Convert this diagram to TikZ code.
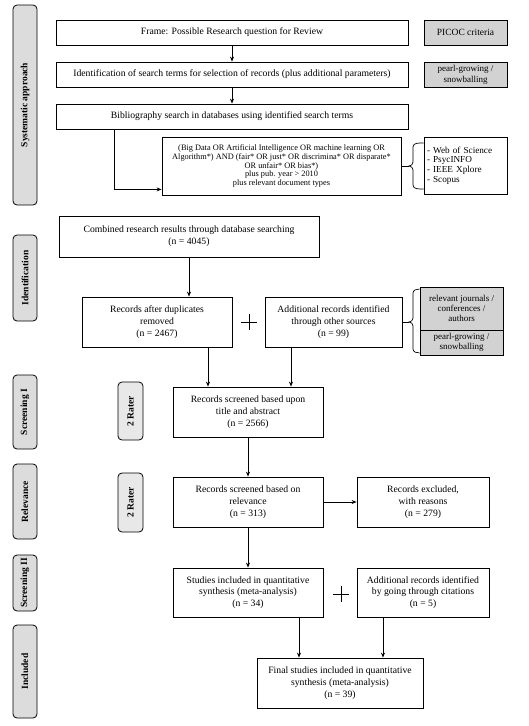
\documentclass[tikz,border=0pt]{standalone}
\usepackage{fontspec}
\setmainfont{Liberation Serif}
\usetikzlibrary{arrows.meta}
\definecolor{sidegray}{HTML}{DCDCDC}
\definecolor{boxgray}{HTML}{D2D2D2}
\definecolor{ratergray}{HTML}{E8E8E8}
\begin{document}
\begin{tikzpicture}[x=1pt,y=-1pt,
  box/.style={draw, line width=0.8pt, fill=white, align=center, inner sep=2pt,
    font=\fontsize{9.7}{11.7}\selectfont},
  graybox/.style={box, fill=boxgray, font=\fontsize{9}{10}\selectfont},
  side/.style={draw, line width=0.8pt, fill=sidegray, rounded corners=4pt, rotate=90,
    minimum height=24pt, inner sep=1pt, font=\fontsize{9.5}{11}\selectfont\bfseries},
  rater/.style={side, fill=ratergray, minimum height=25pt},
  arr/.style={line width=0.8pt, -{Stealth[length=5pt,width=4pt]}},
  ln/.style={line width=0.8pt}]
\useasboundingbox (0,0) rectangle (529,726);

% side bars
\node[side, minimum width=200pt] (s1) at (25,105) {Systematic approach};
\node[side, minimum width=86pt] (s2) at (25,278) {Identification};
\node[side, minimum width=74pt] (s3) at (25,412) {Screening I};
\node[side, minimum width=75pt] (s4) at (25,501.5) {Relevance};
\node[side, minimum width=56pt] (s5) at (25,583) {Screening II};
\node[side, minimum width=93pt] (s6) at (25,671.5) {Included};

\node[rater, minimum width=58pt] (r1) at (130.5,411) {2 Rater};
\node[rater, minimum width=59pt] (r2) at (130.5,502.5) {2 Rater};

% systematic approach
\node[box, minimum width=352pt, minimum height=25pt] (frame) at (232,32.5) {Frame: Possible Research question for Review};
\node[box, minimum width=352pt, minimum height=25pt] (ident) at (232,74.5) {Identification of search terms for selection of records (plus additional parameters)};
\node[box, minimum width=352pt, minimum height=25pt] (bib) at (232,116.5) {Bibliography search in databases using identified search terms};
\node[box, minimum width=239pt, minimum height=58pt, font=\fontsize{8.3}{8.8}\selectfont] (query) at (281.5,166)
  {(Big Data OR Artificial Intelligence OR machine learning OR\\
   Algorithm*) AND (fair* OR just* OR discrimina* OR disparate*\\
   OR unfair* OR bias*)\\
   plus pub. year > 2010\\
   plus relevant document types};
\node[graybox, minimum width=83pt, minimum height=25pt, font=\fontsize{9.5}{11}\selectfont] (picoc) at (465.5,32.5) {PICOC criteria};
\node[graybox, minimum width=83pt, minimum height=25pt, font=\fontsize{9}{11}\selectfont] (pearl1) at (465.5,74.5) {pearl-growing /\\snowballing};
\node[box, minimum width=83pt, minimum height=57pt, align=left, text width=77pt, font=\fontsize{9.2}{9.8}\selectfont] (dbs) at (465.5,165.5)
  {- Web of Science\\- PsycINFO\\- IEEE Xplore\\- Scopus};

\draw[arr] (frame.south) -- (ident.north);
\draw[arr] (ident.south) -- (bib.north);
\draw[arr] (bib.south -| 114,0) |- ([yshift=6pt]query.south west);

% brace 1
\coordinate (b1tip) at (409,166);
\draw[ln] (query.east) -- (b1tip);
\draw[line width=0.7pt] (dbs.west |- 0,143) to[out=180,in=90] (413,147) -- (413,162)
  to[out=270,in=0] (b1tip) to[out=0,in=90] (413,170) -- (413,185) to[out=270,in=180] (dbs.west |- 0,189);

% identification
\node[box, minimum width=260pt, minimum height=41pt] (comb) at (189,236.5) {Combined research results through database searching\\(n = 4045)};
\node[box, minimum width=150pt, minimum height=50pt] (rec) at (157,322) {Records after duplicates\\removed\\(n = 2467)};
\node[box, minimum width=137pt, minimum height=50pt] (add) at (333.5,322) {Additional records identified\\through other sources\\(n = 99)};
\node[graybox, minimum width=83pt, minimum height=43pt] (rj) at (461.5,308.5) {relevant journals /\\conferences /\\authors};
\node[graybox, minimum width=83pt, minimum height=25pt] (pg2) at (461.5,342.5) {pearl-growing /\\snowballing};
\draw[arr] (comb.south) -- (rec.north -| comb.south);
\node[inner sep=0pt] (plus1) at (249,322) {};
\draw[line width=0.7pt] ([xshift=-8pt]plus1.center) -- ([xshift=8pt]plus1.center)
  ([yshift=-8pt]plus1.center) -- ([yshift=8pt]plus1.center);

% brace 2
\coordinate (b2tip) at (409,322);
\draw[ln] (add.east) -- (b2tip);
\draw[line width=0.7pt] (rj.west |- 0,289) to[out=180,in=90] (413,293) -- (413,318)
  to[out=270,in=0] (b2tip) to[out=0,in=90] (413,326) -- (413,349) to[out=270,in=180] (rj.west |- 0,353);

% screening
\node[box, minimum width=150pt, minimum height=50pt] (scr) at (248,412) {Records screened based upon\\title and abstract\\(n = 2566)};
\draw[arr] (rec.south -| 208,0) -- (scr.north -| 208,0);
\draw[arr] (add.south -| 291,0) -- (scr.north -| 291,0);

\node[box, minimum width=150pt, minimum height=50pt] (rel) at (248,502) {Records screened based on\\relevance\\(n = 313)};
\node[box, minimum width=132pt, minimum height=50pt] (excl) at (423,502) {Records excluded,\\with reasons\\(n = 279)};
\draw[arr] (scr.south) -- (rel.north);
\draw[arr] (rel.east) -- (excl.west);

\node[box, minimum width=150pt, minimum height=49pt] (stud) at (248,592.5) {Studies included in quantitative\\synthesis (meta-analysis)\\(n = 34)};
\node[box, minimum width=132pt, minimum height=49pt] (addc) at (423,592.5) {Additional records identified\\by going through citations\\(n = 5)};
\draw[arr] (rel.south) -- (stud.north);
\node[inner sep=0pt] (plus2) at (341,594) {};
\draw[line width=0.7pt] ([xshift=-8pt]plus2.center) -- ([xshift=8pt]plus2.center)
  ([yshift=-8pt]plus2.center) -- ([yshift=8pt]plus2.center);

\node[box, minimum width=166pt, minimum height=50pt] (final) at (340,683) {Final studies included in quantitative\\synthesis (meta-analysis)\\(n = 39)};
\draw[arr] (stud.south -| 299,0) -- (final.north -| 299,0);
\draw[arr] (addc.south -| 383,0) -- (final.north -| 383,0);
\end{tikzpicture}
\end{document}
